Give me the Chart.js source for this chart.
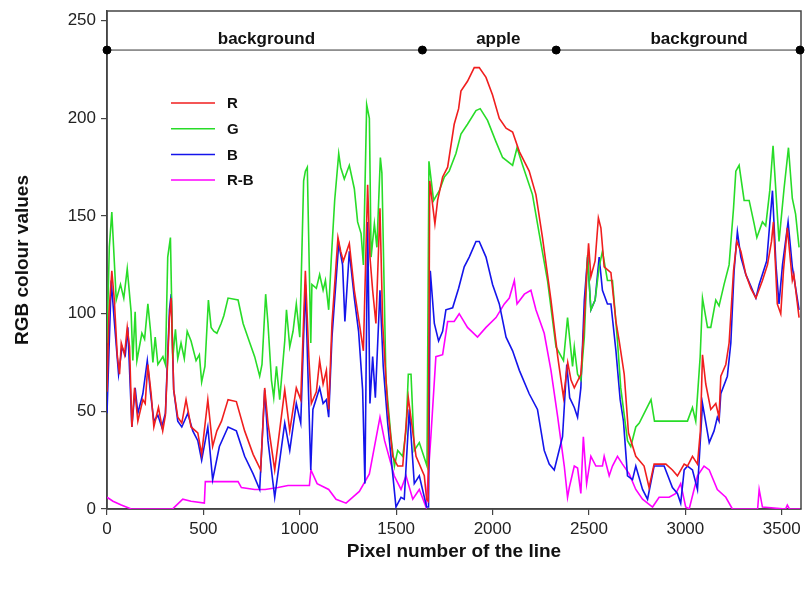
<!DOCTYPE html>
<html>
<head>
<meta charset="utf-8">
<script src="https://cdn.jsdelivr.net/npm/chart.js@4"></script>
<style>
  body { margin: 0; background: #fff; }
  #wrap { width: 808px; height: 595px; }
</style>
</head>
<body>
<div id="wrap"><canvas id="myChart" width="808" height="595"></canvas></div>
<script>
// values, per series: pixel number / colour value
var rX = [0,10,25,38,53,65,74,91,105,117,129,143,160,186,198,212,229,243,267,289,303,324,333,346,367,388,410,436,471,491,523,548,570,594,628,671,714,758,797,818,835,870,922,948,982,1005,1029,1047,1060,1086,1103,1121,1138,1150,1167,1198,1212,1226,1257,1283,1309,1330,1352,1364,1378,1395,1416,1430,1456,1482,1508,1534,1563,1603,1646,1658,1666,1674,1701,1715,1741,1767,1801,1824,1836,1870,1905,1931,1966,2000,2035,2070,2104,2139,2190,2225,2259,2303,2338,2368,2390,2407,2424,2458,2471,2488,2498,2510,2532,2549,2562,2579,2614,2640,2657,2683,2705,2743,2786,2812,2838,2899,2933,2959,2994,3011,3037,3063,3078,3089,3106,3132,3158,3175,3184,3210,3227,3250,3267,3288,3314,3340,3366,3400,3426,3447,3457,3477,3495,3509,3529,3555,3563,3590];
var rVal = [60,100,122,107,79,69,85,79,93,83,42,62,45,56,54,74,59,42,52,40,48,98,108,61,47,44,56,42,39,28,56,32,40,45,56,55,40,28,20,62,44,20,61,40,62,56,122,78,54,60,76,64,71,51,95,139,132,127,136,112,95,81,166,129,112,95,154,95,52,27,22,22,57,27,17,5,4,168,146,158,170,175,197,205,214,219,226,226,221,212,200,195,193,183,173,161,139,107,78,57,75,66,62,69,88,120,136,119,127,149,144,124,121,96,86,69,39,27,22,11,23,23,20,17,23,22,27,23,40,79,64,51,54,47,68,74,85,122,137,132,120,113,108,117,125,137,147,105,100,122,144,117,120,98];

var gX = [0,12,25,48,70,87,105,125,134,146,155,181,195,212,226,238,250,264,290,303,315,329,341,355,367,384,401,416,436,462,479,491,508,526,540,554,570,592,606,628,680,706,741,766,792,804,823,835,853,865,879,896,922,931,948,965,982,1000,1020,1029,1039,1057,1063,1086,1103,1121,1133,1150,1164,1181,1202,1212,1231,1257,1283,1300,1318,1330,1347,1361,1370,1387,1400,1418,1426,1447,1473,1491,1508,1534,1551,1563,1577,1594,1620,1660,1670,1694,1724,1750,1775,1810,1836,1870,1914,1936,1974,2018,2052,2104,2127,2156,2207,2242,2285,2329,2368,2389,2415,2424,2441,2458,2476,2493,2510,2532,2553,2570,2596,2622,2648,2665,2700,2717,2743,2761,2822,2840,2864,2951,3011,3037,3054,3077,3089,3115,3132,3158,3175,3201,3227,3250,3262,3279,3305,3331,3357,3371,3400,3417,3438,3455,3486,3512,3535,3555,3572,3590];
var gVal = [85,134,152,107,115,108,123,101,76,101,76,90,87,105,91,75,88,74,78,74,129,139,77,92,77,85,77,91,86,76,79,65,73,107,93,91,90,95,99,108,107,95,85,78,68,74,110,95,66,57,73,56,86,102,83,91,105,88,168,173,175,85,115,113,120,112,117,102,129,158,182,175,169,176,164,147,141,125,207,200,129,146,134,180,172,66,37,22,30,27,40,69,69,30,34,22,178,158,163,170,173,182,192,197,204,205,199,188,180,176,185,176,161,141,117,83,76,98,73,83,69,66,88,130,102,107,124,132,117,117,86,62,35,32,42,44,56,45,45,45,45,52,45,78,108,93,93,107,104,115,125,154,173,176,158,158,146,139,147,145,163,186,137,164,185,159,151,134];

var bX = [0,22,38,60,78,95,108,129,146,160,186,209,226,243,264,284,303,324,333,346,367,388,419,445,471,491,523,548,583,628,671,714,758,792,818,835,870,922,948,982,1005,1029,1057,1068,1103,1121,1138,1150,1167,1202,1222,1234,1257,1283,1305,1326,1338,1352,1364,1378,1392,1416,1433,1456,1482,1499,1525,1542,1568,1594,1620,1658,1668,1677,1698,1720,1741,1758,1793,1824,1853,1879,1914,1931,1966,2000,2035,2070,2104,2139,2190,2233,2268,2294,2320,2363,2385,2400,2424,2441,2458,2476,2493,2510,2532,2553,2570,2596,2614,2640,2662,2679,2700,2726,2743,2778,2804,2838,2890,2933,2959,2976,2994,3011,3037,3063,3089,3124,3149,3166,3175,3184,3218,3236,3253,3270,3288,3314,3366,3383,3422,3452,3470,3486,3504,3533,3555,3590];
var bVal = [49,117,96,69,83,79,93,42,62,49,59,76,59,45,48,42,49,102,110,61,45,42,49,40,35,25,42,15,32,42,40,27,18,10,61,35,6,44,30,54,44,115,20,51,62,54,56,47,88,136,125,96,132,108,91,61,13,147,54,78,57,112,73,44,18,1,6,5,51,13,17,1,1,122,95,86,91,102,103,113,124,129,137,137,129,115,105,88,81,71,59,51,30,23,20,37,74,57,52,47,62,107,129,102,107,129,112,105,105,81,56,45,17,15,22,10,5,22,22,11,8,3,20,22,20,10,54,34,40,47,45,59,68,85,122,142,129,120,108,115,127,163,125,105,125,147,124,102];

var rbX = [0,31,74,126,340,350,393,436,505,510,594,680,697,766,820,887,939,1050,1058,1090,1150,1188,1240,1309,1361,1416,1440,1490,1525,1551,1586,1620,1655,1680,1706,1741,1767,1801,1827,1870,1922,1966,2018,2061,2087,2113,2127,2165,2199,2225,2268,2303,2338,2372,2389,2398,2424,2441,2458,2471,2488,2510,2536,2570,2579,2605,2622,2648,2674,2709,2743,2778,2830,2864,2916,2951,2976,3002,3020,3063,3097,3124,3166,3210,3244,3375,3383,3400,3520,3529,3540,3595];
var rbVal = [6,4,2,0,0,1,5,4,3,14,14,14,11,10,10,11,12,12,20,13,10,5,3,9,18,47,35,17,10,17,5,10,1,37,78,79,96,96,100,93,88,93,98,105,108,117,105,110,112,102,90,71,47,22,6,11,22,21,8,37,13,27,22,22,27,17,22,27,23,18,10,5,1,6,6,8,13,1,0,17,22,20,10,6,0,0,10,1,0,2,0,0];

// axis ticks
var xTicks = [0, 500, 1000, 1500, 2000, 2500, 3000, 3500];
var yTicks = [0, 50, 100, 150, 200, 250];

// segment bar across the top
var segX = [0, 1636, 2330, 3595];
var segY = 235;
var segNames = ["background", "apple", "background"];
var segLabelX = [827, 2030, 3071];

function pts(xs, ys) {
    var out = [];
    for (var i = 0; i < xs.length; i++) out.push({ x: xs[i], y: ys[i] });
    return out;
}

function useTicks(list) {
    return function (s) {
        s.ticks = list.map(function (v) { return { value: v }; });
    };
}

function plain(v) { return String(v); }

var segPts = [];
for (var i = 0; i < segX.length; i++) segPts.push({ x: segX[i], y: segY });

var extras = {
    id: 'extras',
    beforeDatasetsDraw: function (chart) {
        var ctx = chart.ctx;
        var a = chart.chartArea;
        ctx.save();
        // box round the plot
        ctx.strokeStyle = '#444';
        ctx.lineWidth = 1.5;
        ctx.strokeRect(a.left, a.top, a.right - a.left, a.bottom - a.top);
        ctx.restore();
    },
    afterDatasetsDraw: function (chart) {
        var ctx = chart.ctx;
        var xs = chart.scales.x, ys = chart.scales.y;
        ctx.save();
        // segment names
        ctx.fillStyle = '#111';
        ctx.font = 'bold 17px "Liberation Sans", Arial, sans-serif';
        ctx.textAlign = 'center';
        ctx.textBaseline = 'middle';
        for (var i = 0; i < segNames.length; i++) {
            ctx.fillText(segNames[i], xs.getPixelForValue(segLabelX[i]), ys.getPixelForValue(segY) - 11);
        }
        // legend inside the plot
        var ds = chart.data.datasets;
        ctx.font = 'bold 15px "Liberation Sans", Arial, sans-serif';
        ctx.textAlign = 'left';
        for (var k = 0; k < 4; k++) {
            var y = 103 + k * 25.7;
            ctx.strokeStyle = ds[k].borderColor;
            ctx.lineWidth = 1.5;
            ctx.beginPath();
            ctx.moveTo(171, y);
            ctx.lineTo(215, y);
            ctx.stroke();
            ctx.fillStyle = '#111';
            ctx.fillText(ds[k].label, 227, y + 1);
        }
        ctx.restore();
    }
};

new Chart("myChart", {
    type: "line",
    data: {
        datasets: [
            { label: "R", data: pts(rX, rVal), borderColor: "rgb(240,30,30)", borderWidth: 1.6, pointRadius: 0 },
            { label: "G", data: pts(gX, gVal), borderColor: "rgb(40,220,40)", borderWidth: 1.6, pointRadius: 0 },
            { label: "B", data: pts(bX, bVal), borderColor: "rgb(20,20,235)", borderWidth: 1.6, pointRadius: 0 },
            { label: "R-B", data: pts(rbX, rbVal), borderColor: "rgb(255,0,255)", borderWidth: 1.6, pointRadius: 0 },
            { label: "segments", data: segPts, borderColor: "#333", borderWidth: 1, pointRadius: 4,
              pointBackgroundColor: "#000", pointBorderColor: "#000", clip: false }
        ]
    },
    options: {
        responsive: false,
        animation: false,
        layout: { padding: { top: 11, right: 7, left: 0, bottom: 0 } },
        plugins: { legend: { display: false }, tooltip: { enabled: false } },
        scales: {
            x: {
                type: "linear",
                min: 0,
                max: 3600,
                ticks: { autoSkip: false, maxRotation: 0, color: "#222", padding: 4, callback: plain,
                         font: { size: 17, family: '"Liberation Sans", Arial, sans-serif' } },
                grid: { drawOnChartArea: false, tickLength: 6, color: "#444", lineWidth: 1.2 },
                border: { color: "#444", width: 1.5 },
                title: { display: true, text: "Pixel number of the line", color: "#111",
                         font: { size: 19, weight: "bold", family: '"Liberation Sans", Arial, sans-serif' },
                         padding: { bottom: 32 } },
                afterBuildTicks: useTicks(xTicks),
                afterFit: function (s) { s.height = 86; s.paddingLeft = 0; s.paddingRight = 0; }
            },
            y: {
                min: 0,
                max: 255,
                ticks: { autoSkip: false, color: "#222", padding: 5, callback: plain,
                         font: { size: 17, family: '"Liberation Sans", Arial, sans-serif' } },
                grid: { drawOnChartArea: false, tickLength: 6, color: "#444", lineWidth: 1.2 },
                border: { color: "#444", width: 1.5 },
                title: { display: true, text: "RGB colour values", color: "#111",
                         font: { size: 19, weight: "bold", family: '"Liberation Sans", Arial, sans-serif' },
                         padding: { top: 11 } },
                afterBuildTicks: useTicks(yTicks),
                afterFit: function (s) { s.width = 107; s.paddingTop = 0; s.paddingBottom = 0; }
            }
        }
    },
    plugins: [extras]
});
</script>
</body>
</html>
